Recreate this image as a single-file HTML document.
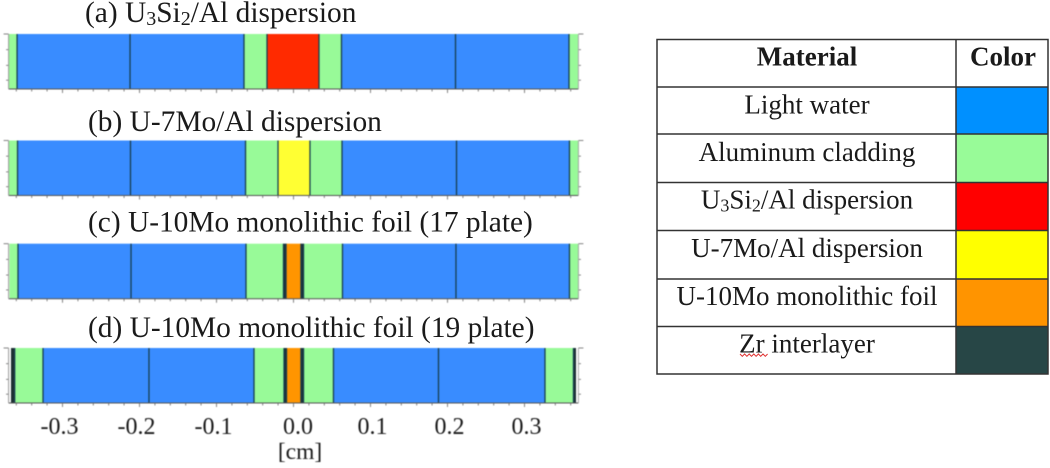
<!DOCTYPE html>
<html>
<head>
<meta charset="utf-8">
<style>
html,body{margin:0;padding:0;background:#fff;width:1050px;height:468px;overflow:hidden}
svg{display:block;font-family:"Liberation Serif",serif;fill:#1a1a1a}
</style>
</head>
<body>
<svg id="fig" width="1050" height="468" viewBox="0 0 1050 468" xmlns="http://www.w3.org/2000/svg">
  <g id="chart" style="filter:blur(0.45px)"></g>
  <g style="filter:blur(0.35px)" font-size="29.4">
    <text x="85" y="22">(a) U<tspan font-size="20" dy="3">3</tspan><tspan dy="-3">Si</tspan><tspan font-size="20" dy="3">2</tspan><tspan dy="-3">/Al dispersion</tspan></text>
    <text x="88" y="131">(b) U-7Mo/Al dispersion</text>
    <text x="88" y="231.5">(c) U-10Mo monolithic foil (17 plate)</text>
    <text x="88" y="337">(d) U-10Mo monolithic foil (19 plate)</text>
  </g>
  <g style="filter:blur(0.35px)" font-size="27" text-anchor="middle">
    <rect x="956" y="87" width="92" height="47" fill="#0090ff"/>
    <rect x="956" y="134" width="92" height="48.5" fill="#98fb98"/>
    <rect x="956" y="182.5" width="92" height="48" fill="#ff0000"/>
    <rect x="956" y="230.5" width="92" height="48.5" fill="#ffff00"/>
    <rect x="956" y="279" width="92" height="47.5" fill="#ff9400"/>
    <rect x="956" y="326.5" width="92" height="47.5" fill="#274646"/>
    <g stroke="#333" stroke-width="1.5" fill="none">
      <rect x="657" y="39.5" width="391" height="334.5"/>
      <line x1="956" y1="39.5" x2="956" y2="374"/>
      <line x1="657" y1="87" x2="1048" y2="87"/>
      <line x1="657" y1="134" x2="1048" y2="134"/>
      <line x1="657" y1="182.5" x2="1048" y2="182.5"/>
      <line x1="657" y1="230.5" x2="1048" y2="230.5"/>
      <line x1="657" y1="279" x2="1048" y2="279"/>
      <line x1="657" y1="326.5" x2="1048" y2="326.5"/>
    </g>
    <text x="807" y="65.5" font-weight="bold">Material</text>
    <text x="1003" y="65.5" font-weight="bold">Color</text>
    <text x="807" y="113.5">Light water</text>
    <text x="807" y="161">Aluminum cladding</text>
    <text x="807" y="208.5">U<tspan font-size="18" dy="3">3</tspan><tspan dy="-3">Si</tspan><tspan font-size="18" dy="3">2</tspan><tspan dy="-3">/Al dispersion</tspan></text>
    <text x="807" y="257">U-7Mo/Al dispersion</text>
    <text x="807" y="305">U-10Mo monolithic foil</text>
    <text x="807" y="352.5">Zr interlayer</text>
    <path d="M740 354l2.300 2.300 2.300-2.300 2.300 2.300 2.300-2.300 2.300 2.300 2.300-2.300 2.300 2.300 2.300-2.300 2.300 2.300 2.300-2.300 2.300 2.300 2.300-2.300" fill="none" stroke="#e03030" stroke-width="1"/>
  </g>
</svg>
<script>
// Chart data: layer boundaries in cm and the material of each layer
const edgesA = [-0.370,-0.359,-0.2123,-0.0643,-0.0344,0.0331,0.0623,0.2104,0.3578,0.3695];
const materialsA = ["al","water","water","al","u3si2","al","water","water","al"];
const edgesB = [-0.3695,-0.3584,-0.2117,-0.0623,-0.0201,0.0214,0.0630,0.2117,0.3584,0.3708];
const materialsB = ["al","water","water","al","u7mo","al","water","water","al"];
const edgesC = [-0.3688,-0.3578,-0.2110,-0.0617,-0.0130,-0.0097,0.0097,0.0130,0.0636,0.2110,0.3584,0.3708];
const materialsC = ["al","water","water","al","zr","u10mo","zr","al","water","water","al"];
const edgesD = [-0.3669,-0.3621,-0.3253,-0.1877,-0.0513,-0.0123,-0.0091,0.0097,0.0130,0.0519,0.1883,0.3266,0.3636,0.3669];
const materialsD = ["zr","al","water","water","al","zr","u10mo","zr","al","water","water","al","zr"];
const panelIds = ["a","b","c","d"];
const xTickValues = [-0.3,-0.2,-0.1,0,0.1,0.2,0.3];
const xTickLabels = ["-0.3","-0.2","-0.1","0.0","0.1","0.2","0.3"];
const xDomain = [-0.37,0.37];
const minorStep = 0.02;
const colorOf = {water:"#398cff",al:"#98fa98",u3si2:"#ff2a00",u7mo:"#ffff33",u10mo:"#ff9500",zr:"#1d2f33"};

const allEdges = [edgesA,edgesB,edgesC,edgesD];
const allMaterials = [materialsA,materialsB,materialsC,materialsD];
const panelTop = [34,140.5,243.7,348];
const panelH = 55;
const xScale = v => 293.5 + 770 * v;
const NS = "http://www.w3.org/2000/svg";
const chart = document.getElementById("chart");
function mk(tag, parent, attrs){
  const el = document.createElementNS(NS, tag);
  for (const k in attrs) el.setAttribute(k, attrs[k]);
  parent.appendChild(el);
  return el;
}
panelIds.forEach((id, p) => {
  const top = panelTop[p], edges = allEdges[p], mats = allMaterials[p];
  const g = mk("g", chart, {});
  
  
  mats.forEach((m, i) => {
    const x0 = xScale(edges[i]), x1 = xScale(edges[i+1]);
    const r = mk("rect", g, {x:x0, y:top, width:x1-x0, height:panelH, fill:colorOf[m]});
    
    
  });
  edges.slice(1,-1).forEach(e => {
    const l = mk("line", g, {x1:xScale(e), x2:xScale(e), y1:top, y2:top+panelH, stroke:"#173f50", "stroke-width":1.3});
    
    
  });
  const left = xScale(xDomain[0]), right = xScale(xDomain[1]);
  const base = mk("line", g, {x1:left, x2:right, y1:top+panelH, y2:top+panelH, stroke:"#555", "stroke-width":1});
  
  
  for (let k = -18; k <= 18; k++) {
    const v = k * minorStep;
    const major = k % 5 === 0;
    const t = mk("line", g, {x1:xScale(v), x2:xScale(v), y1:top+panelH, y2:top+panelH+(major?4:2.500), stroke:"#666", "stroke-width":0.8});
    
    
  }
  [0,0.285,0.57,0.84].forEach((f, i) => {
    const y = top + f * panelH;
    const lt = mk("line", g, {x1:left-(i===0?5:2.500), x2:left, y1:y, y2:y, stroke:"#666", "stroke-width":0.8});
    
    
    const rt = mk("line", g, {x1:right, x2:right+(i===0?5:2.500), y1:y, y2:y, stroke:"#666", "stroke-width":0.8});
    
    
  });
  const la = mk("line", g, {x1:left, x2:left, y1:top, y2:top+panelH, stroke:"#999", "stroke-width":1});
  
  
  const ra = mk("line", g, {x1:right, x2:right, y1:top, y2:top+panelH, stroke:"#aaa", "stroke-width":1});
  
  
});
xTickValues.forEach((v, i) => {
  const nudge = v < 0 ? -3 : (v === 0 ? 4.500 : 2);
  const t = mk("text", chart, {x:xScale(v)+nudge, y:434, "font-size":24, "text-anchor":"middle"});
  
  
  t.textContent = xTickLabels[i];
});
const xt = mk("text", chart, {x:300, y:459, "font-size":23.500, "text-anchor":"middle"});


xt.textContent = "[cm]";
</script>
</body>
</html>
